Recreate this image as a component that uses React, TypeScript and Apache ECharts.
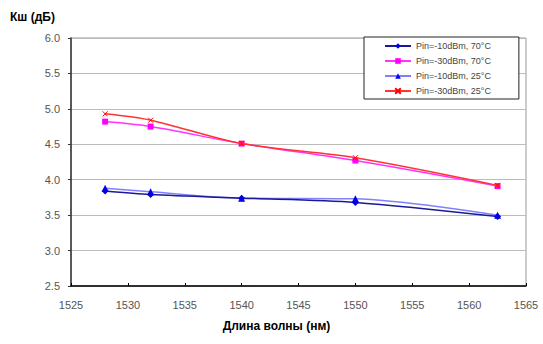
import React, { useEffect, useRef } from "react";
import * as echarts from "echarts";

const wavelengths = [1528, 1532, 1540, 1550, 1562.5];
const seriesNames = [
  "Pin=-10dBm, 70°C",
  "Pin=-30dBm, 70°C",
  "Pin=-10dBm, 25°C",
  "Pin=-30dBm, 25°C",
];
const nf10_70 = [3.84, 3.79, 3.74, 3.68, 3.48];
const nf30_70 = [4.82, 4.75, 4.51, 4.27, 3.91];
const nf10_25 = [3.88, 3.83, 3.74, 3.73, 3.5];
const nf30_25 = [4.93, 4.84, 4.51, 4.31, 3.92];

const xTicks = [1525, 1565, 5];
const yTicks = [2.5, 6.0, 0.5];

const pair = (ys: number[]) => wavelengths.map((x, i) => [x, ys[i]]);

export default function App() {
  const ref = useRef<HTMLDivElement>(null);
  useEffect(() => {
    const chart = echarts.init(ref.current!, null, { renderer: "svg" });
    const font = "Arial, 'Liberation Sans', sans-serif";
    chart.setOption({
      animation: false,
      backgroundColor: "#fff",
      textStyle: { fontFamily: font },
      title: {
        text: "Кш (дБ)",
        left: 5,
        top: 6,
        textStyle: { fontSize: 12, fontWeight: "bold", color: "#000", fontFamily: font },
      },
      grid: { left: 71, right: 17, top: 38, bottom: 58, show: true, borderColor: "#999", borderWidth: 1 },
      legend: {
        orient: "vertical",
        left: 364,
        top: 37,
        padding: [4, 28, 3, 20],
        itemGap: 5,
        itemWidth: 26,
        itemHeight: 7,
        borderColor: "#222",
        borderWidth: 1,
        backgroundColor: "#fff",
        textStyle: { fontSize: 9, color: "#444", fontFamily: font, lineHeight: 10 },
        data: seriesNames,
      },
      xAxis: {
        type: "value",
        min: xTicks[0],
        max: xTicks[1],
        interval: xTicks[2],
        name: "Длина волны (нм)",
        nameLocation: "middle",
        nameGap: 34,
        nameTextStyle: { fontSize: 12, fontWeight: "bold", color: "#000", fontFamily: font, padding: [0, 44, 0, 0] },
        axisLine: { lineStyle: { color: "#000", width: 1.5 } },
        axisTick: { inside: true, length: 3, lineStyle: { color: "#000" } },
        axisLabel: { fontSize: 11, color: "#555", margin: 13, formatter: (v: number) => String(v) },
        splitLine: { show: false },
      },
      yAxis: {
        type: "value",
        min: yTicks[0],
        max: yTicks[1],
        interval: yTicks[2],
        axisLine: { show: true, lineStyle: { color: "#333", width: 1.5 } },
        axisTick: { show: true, length: 3, lineStyle: { color: "#333" } },
        axisLabel: { fontSize: 11, color: "#555", margin: 11, formatter: (v: number) => v.toFixed(1) },
        splitLine: { lineStyle: { color: "#bbb", width: 1 } },
      },
      series: [
        {
          name: seriesNames[0],
          type: "line",
          smooth: 0.3,
          data: pair(nf10_70),
          symbol: "diamond",
          symbolSize: 7,
          lineStyle: { color: "#1a1a99", width: 1.5 },
          itemStyle: { color: "#0000dd" },
          z: 4,
        },
        {
          name: seriesNames[1],
          type: "line",
          smooth: 0.3,
          data: pair(nf30_70),
          symbol: "rect",
          symbolSize: 6,
          lineStyle: { color: "#ff33ff", width: 1.5 },
          itemStyle: { color: "#ff00ff" },
          z: 3,
        },
        {
          name: seriesNames[2],
          type: "line",
          smooth: 0.3,
          data: pair(nf10_25),
          symbol: "triangle",
          symbolSize: 7,
          lineStyle: { color: "#8080ff", width: 1.5 },
          itemStyle: { color: "#0000ff" },
          z: 3,
        },
        {
          name: seriesNames[3],
          type: "line",
          smooth: 0.3,
          data: pair(nf30_25),
          symbol: "path://M0,0L10,10M10,0L0,10",
          symbolSize: 5,
          lineStyle: { color: "#ff3333", width: 1.5 },
          itemStyle: { color: "#ff0000", borderColor: "#ff0000", borderWidth: 1 },
          z: 4,
        },
      ],
    });
    return () => chart.dispose();
  }, []);
  return <div ref={ref} style={{ width: 543, height: 344, position: "absolute", left: 0, top: 0 }} />;
}
